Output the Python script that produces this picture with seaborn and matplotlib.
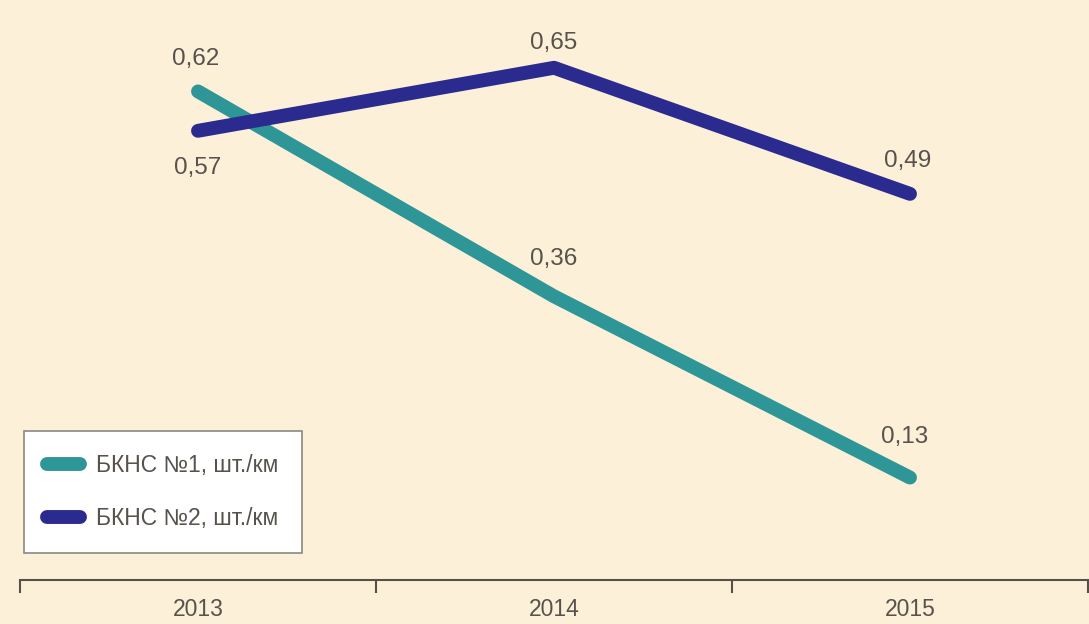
import matplotlib
matplotlib.use("Agg")
import matplotlib.pyplot as plt
import seaborn as sns
import pandas as pd

# Defect density per pipeline section, pcs/km
years = ["2013", "2014", "2015"]
bkns1 = [0.62, 0.36, 0.13]
bkns2 = [0.57, 0.65, 0.49]
series_names = ["БКНС №1, шт./км", "БКНС №2, шт./км"]

# label placement: offset in points (dx, dy) per point
label_offsets_1 = [(-2, 23), (0, 27), (-4, 29)]
label_offsets_2 = [(0, -27), (0, 18), (-2, 24)]

bg = "#fdf0d9"
teal = "#2f9697"
navy = "#2b2b8f"
text_c = "#57524c"

sns.set_theme(style="white")
plt.rcParams["font.family"] = ["Liberation Sans", "DejaVu Sans"]

df = pd.DataFrame({
    "year": years * 2,
    "value": bkns1 + bkns2,
    "series": [series_names[0]] * 3 + [series_names[1]] * 3,
})
df["pos"] = [0, 1, 2, 0, 1, 2]

fig = plt.figure(figsize=(10.89, 6.24), dpi=100, facecolor=bg)
ax = fig.add_axes([20 / 1089, 44 / 624, 1068 / 1089, 580 / 624])
ax.set_facecolor(bg)

sns.lineplot(data=df, x="pos", y="value", hue="series",
             palette=[teal, navy], linewidth=10, ax=ax,
             legend=True, clip_on=False)
for ln in ax.lines:
    ln.set_solid_capstyle("round")
    ln.set_clip_on(False)

for vals, offs in ((bkns1, label_offsets_1), (bkns2, label_offsets_2)):
    for i, (v, off) in enumerate(zip(vals, offs)):
        ax.annotate(f"{v:.2f}".replace(".", ","), (i, v), xytext=off,
                    textcoords="offset points", ha="center", va="center",
                    fontsize=17.5, color=text_c)

ax.set_xlim(-0.5, 2.5)
ax.set_ylim(0, 0.736)
ax.set_xlabel("")
ax.set_ylabel("")
ax.set_yticks([])

# boundary ticks between categories, labels centred on categories
ax.set_xticks([-0.5, 0.5, 1.5, 2.5])
ax.set_xticklabels([])
ax.set_xticks([0, 1, 2], minor=True)
ax.set_xticklabels(years, minor=True)
ax.tick_params(axis="x", which="major", direction="out", length=9,
               width=1.5, color="#55504a", bottom=True)
ax.tick_params(axis="x", which="minor", length=0, pad=13,
               labelsize=16.5, labelcolor=text_c)

for side in ("top", "right", "left"):
    ax.spines[side].set_visible(False)
ax.spines["bottom"].set_color("#55504a")
ax.spines["bottom"].set_linewidth(1.5)

handles, labels = ax.get_legend_handles_labels()
for h in handles:
    h.set_solid_capstyle("round")
    h.set_linewidth(10)
leg = ax.legend(handles, labels, loc="lower left",
                bbox_to_anchor=(0.004, 0.047), borderaxespad=0,
                frameon=True, fancybox=False, fontsize=16.5,
                handlelength=1.45, handletextpad=0.7, labelspacing=1.3,
                borderpad=1.0, labelcolor=text_c, framealpha=1.0)
leg.get_frame().set_facecolor("white")
leg.get_frame().set_edgecolor("#8c8882")
leg.get_frame().set_linewidth(1.2)

fig.savefig("out.png", dpi=100, facecolor=bg)
